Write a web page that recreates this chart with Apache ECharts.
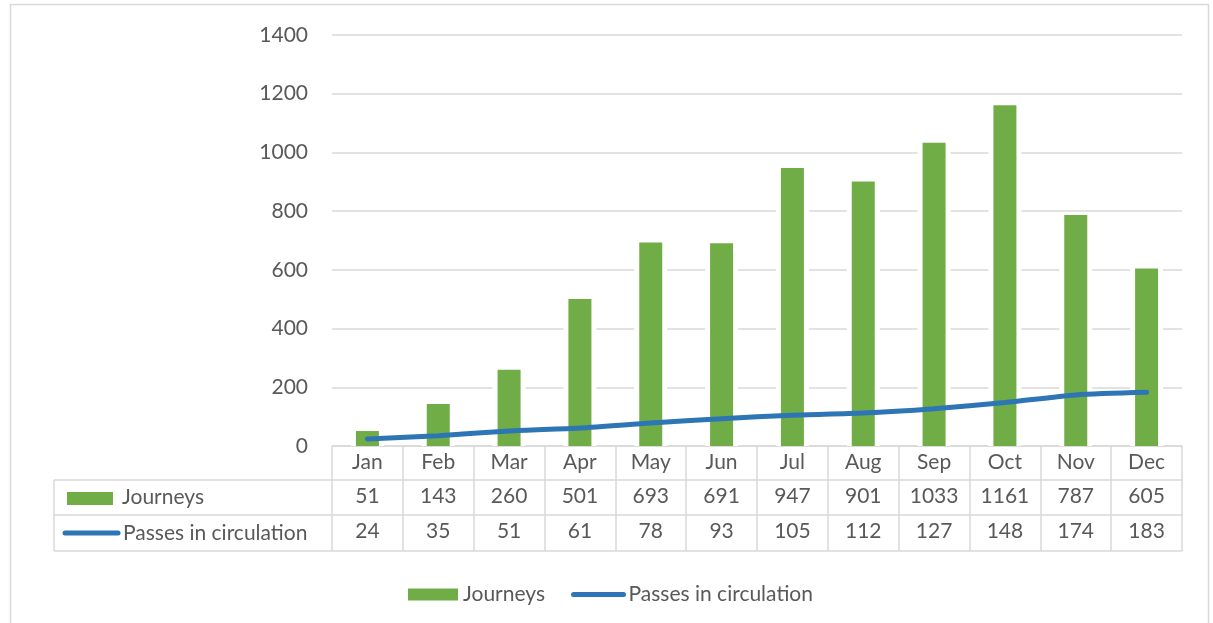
<!DOCTYPE html>
<html>
<head>
<meta charset="utf-8">
<script src="https://cdn.jsdelivr.net/npm/echarts@6/dist/echarts.min.js"></script>
<style>
  html, body { margin: 0; padding: 0; background: #fff; }
  #chart { width: 1213px; height: 623px; }
</style>
</head>
<body>
<div id="chart"></div>
<script>
// Monthly figures shown as bars (journeys) and a line (passes), with a data table below.
const months = ['Jan', 'Feb', 'Mar', 'Apr', 'May', 'Jun', 'Jul', 'Aug', 'Sep', 'Oct', 'Nov', 'Dec'];
const journeys = [51, 143, 260, 501, 693, 691, 947, 901, 1033, 1161, 787, 605];
const passes = [24, 35, 51, 61, 78, 93, 105, 112, 127, 148, 174, 183];
const yTicks = [0, 200, 400, 600, 800, 1000, 1200, 1400];

const GREEN = '#70AD47';
const BLUE = '#2E75B6';
const TEXT = '#595959';
const RULE = '#D9D9D9';
const FONT = 'Lato, "Open Sans", sans-serif';
const FS = 21;

const chart = echarts.init(document.getElementById('chart'), null, { renderer: 'canvas' });

// Geometry of the plot and the table rows beneath it
const gridLeft = 332, gridRight = 31, gridTop = 35, gridBottom = 177;
const plotBottom = 623 - gridBottom;          // y of the zero line
const rowH = [34, 35, 36];                     // header, journeys, passes rows
const rowTop = [plotBottom, plotBottom + rowH[0], plotBottom + rowH[0] + rowH[1]];
const tableBottom = rowTop[2] + rowH[2];
const tableLeft = 54;
const plotRightX = 1213 - gridRight;

function tableAxis(offset, tickLen, formatter) {
  return {
    type: 'category',
    data: months,
    position: 'bottom',
    offset: offset,
    boundaryGap: true,
    axisLine: { show: true, lineStyle: { color: RULE, width: 1.5 } },
    axisTick: { show: true, length: tickLen, interval: 0, lineStyle: { color: RULE, width: 1.5 } },
    axisLabel: {
      interval: 0, margin: 6, color: TEXT, fontSize: FS, fontFamily: FONT,
      formatter: formatter
    },
    splitLine: { show: false }
  };
}

const option = {
  backgroundColor: '#fff',
  animation: false,
  grid: { left: gridLeft, right: gridRight, top: gridTop, bottom: gridBottom, containLabel: false },
  xAxis: [
    tableAxis(0, rowH[0], v => v),
    tableAxis(rowH[0], rowH[1], (v, i) => String(journeys[i])),
    tableAxis(rowH[0] + rowH[1], rowH[2], (v, i) => String(passes[i]))
  ],
  yAxis: {
    type: 'value',
    min: yTicks[0],
    max: yTicks[yTicks.length - 1],
    interval: 200,
    axisLine: { show: false },
    axisTick: { show: false },
    axisLabel: { color: TEXT, fontSize: FS, fontFamily: FONT, margin: 24, formatter: v => String(v) },
    splitLine: { lineStyle: { color: RULE, width: 1.5 } }
  },
  legend: {
    left: 403,
    top: 579,
    itemGap: 26,
    itemWidth: 50,
    itemHeight: 12,
    textStyle: { color: TEXT, fontSize: FS, fontFamily: FONT },
    data: [
      { name: 'Journeys', icon: 'rect' },
      {
        name: 'Passes in circulation',
        itemStyle: { opacity: 0 },
        lineStyle: { width: 5, cap: 'round', color: BLUE }
      }
    ]
  },
  series: [
    {
      // white band behind each column so the gridlines stop short of it
      name: 'gap',
      type: 'bar',
      xAxisIndex: 1,
      data: journeys,
      barWidth: 33,
      silent: true,
      itemStyle: { color: '#fff' },
      z: 1
    },
    {
      name: 'Journeys',
      type: 'bar',
      xAxisIndex: 0,
      data: journeys,
      barWidth: 23,
      itemStyle: { color: GREEN },
      z: 2
    },
    {
      name: 'Passes in circulation',
      type: 'line',
      xAxisIndex: 0,
      data: passes,
      symbol: 'none',
      smooth: 0.25,
      lineStyle: { color: BLUE, width: 5, cap: 'round' },
      itemStyle: { color: BLUE },
      z: 5
    }
  ],
  graphic: [
    // outer chart frame
    { type: 'rect', silent: true, shape: { x: 10.5, y: 4.5, width: 1198, height: 660 },
      style: { fill: null, stroke: RULE, lineWidth: 1.5 } },
    // table: left column rules and bottom rule
    { type: 'line', shape: { x1: tableLeft, y1: rowTop[1], x2: gridLeft, y2: rowTop[1] },
      style: { stroke: RULE, lineWidth: 1.5 } },
    { type: 'line', shape: { x1: tableLeft, y1: rowTop[2], x2: gridLeft, y2: rowTop[2] },
      style: { stroke: RULE, lineWidth: 1.5 } },
    { type: 'line', shape: { x1: tableLeft, y1: tableBottom, x2: plotRightX, y2: tableBottom },
      style: { stroke: RULE, lineWidth: 1.5 } },
    { type: 'line', shape: { x1: tableLeft, y1: rowTop[1], x2: tableLeft, y2: tableBottom },
      style: { stroke: RULE, lineWidth: 1.5 } },
    // table row keys
    { type: 'rect', shape: { x: 67, y: rowTop[1] + 12, width: 46, height: 13 },
      style: { fill: GREEN } },
    { type: 'text', x: 122, y: rowTop[1] + rowH[1] / 2,
      style: { text: 'Journeys', fill: TEXT, fontSize: FS, fontFamily: FONT, verticalAlign: 'middle' } },
    { type: 'line', shape: { x1: 65, y1: rowTop[2] + 18, x2: 118, y2: rowTop[2] + 18 },
      style: { stroke: BLUE, lineWidth: 5, lineCap: 'round' } },
    { type: 'text', x: 123, y: rowTop[2] + rowH[2] / 2,
      style: { text: 'Passes in circulation', fill: TEXT, fontSize: FS, fontFamily: FONT, verticalAlign: 'middle' } }
  ]
};

chart.setOption(option);
</script>
</body>
</html>
